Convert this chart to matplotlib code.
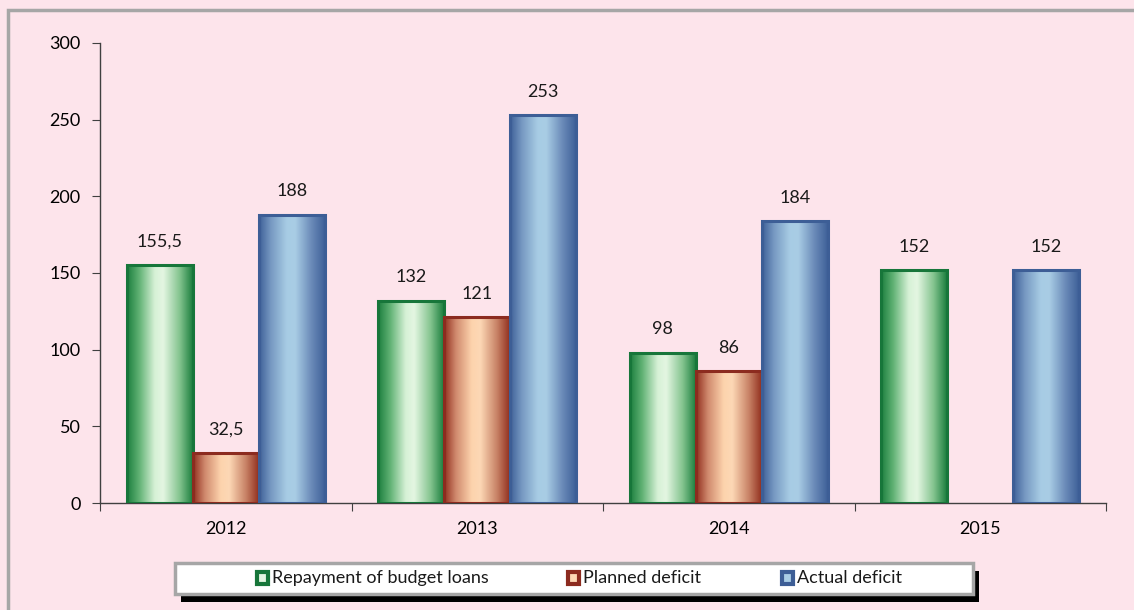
import matplotlib.pyplot as plt
import numpy as np
from matplotlib.colors import LinearSegmentedColormap
from matplotlib.patches import Rectangle

# chart data
years = ['2012', '2013', '2014', '2015']
repayment = [155.5, 132, 98, 152]
planned = [32.5, 121, 86, np.nan]
actual = [188, 253, 184, 152]
value_labels = {
    'repayment': ['155,5', '132', '98', '152'],
    'planned': ['32,5', '121', '86', ''],
    'actual': ['188', '253', '184', '152'],
}
series_names = ['Repayment of budget loans', 'Planned deficit', 'Actual deficit']

# edge colour, gradient stops (dark -> light -> dark)
styles = {
    'repayment': ('#17763a', ['#1d7f3f', '#5fb173', '#d6f1d6', '#e4f6e2', '#84c48f', '#1d7f3f']),
    'planned': ('#8c2b1f', ['#92301f', '#d08a6e', '#fdd3ad', '#fdd8b5', '#c98468', '#92301f']),
    'actual': ('#3d5e96', ['#3f6199', '#7799c2', '#a7cce4', '#a9cde5', '#6a8ab8', '#3f6199']),
}
bg = '#fde4eb'

plt.rcParams['font.family'] = ['Lato', 'DejaVu Sans']

fig = plt.figure(figsize=(11.34, 6.10), dpi=100)
fig.patch.set_facecolor(bg)
W, H = 1134, 610

# outer gray frame (cut at right / bottom like the source)
fig.patches.append(Rectangle((8 / W, -0.1), 1.2, 1 - 10 / H + 0.1, transform=fig.transFigure,
                             fill=False, edgecolor='#a6a6a6', linewidth=2.5, zorder=0))

ax = fig.add_axes([100 / W, 1 - 503 / H, (1106 - 100) / W, (503 - 43) / H])
ax.set_facecolor(bg)

bw = 0.262
x = np.arange(len(years))
series = [('repayment', repayment, -bw), ('planned', planned, 0.0), ('actual', actual, bw)]

for key, vals, off in series:
    edge, stops = styles[key]
    cmap = LinearSegmentedColormap.from_list(key, list(zip([0, 0.18, 0.42, 0.55, 0.8, 1.0], stops)))
    grad = np.linspace(0, 1, 200).reshape(1, -1)
    for i, v in enumerate(vals):
        if np.isnan(v):
            continue
        x0 = x[i] + off - bw / 2
        ax.imshow(grad, cmap=cmap, extent=[x0, x0 + bw, 0, v], aspect='auto',
                  interpolation='bicubic', zorder=2)
        ax.add_patch(Rectangle((x0, 0), bw, v, fill=False, edgecolor=edge, linewidth=2.2, zorder=3))
        ax.annotate(value_labels[key][i], (x[i] + off, v), xytext=(0, 11), textcoords='offset points',
                    ha='center', va='bottom', fontsize=13, color='#1a1a1a')

ax.set_xlim(-0.5, len(years) - 0.5)
ax.set_ylim(0, 300)
ax.set_yticks(range(0, 301, 50))
ax.set_xticks(np.arange(-0.5, len(years), 1.0))
ax.set_xticklabels([])
ax.set_xticks(x, minor=True)
ax.set_xticklabels(years, minor=True)
ax.tick_params(axis='x', which='major', direction='out', length=6, color='#404040')
ax.tick_params(axis='x', which='minor', length=0, pad=13, labelsize=13)
ax.tick_params(axis='y', direction='out', length=6, color='#404040', labelsize=13, pad=8)
for s in ['top', 'right']:
    ax.spines[s].set_visible(False)
for s in ['left', 'bottom']:
    ax.spines[s].set_color('#404040')
    ax.spines[s].set_linewidth(1)

# legend box with shadow
lx0, lx1, ly0, ly1 = 175, 973, 563, 594
fig.patches.append(Rectangle(((lx0 + 6) / W, 1 - (ly1 + 8) / H), (lx1 - lx0) / W, (ly1 - ly0) / H,
                             transform=fig.transFigure, facecolor='black', edgecolor='none', zorder=1))
fig.patches.append(Rectangle((lx0 / W, 1 - ly1 / H), (lx1 - lx0) / W, (ly1 - ly0) / H,
                             transform=fig.transFigure, facecolor='white', edgecolor='#a6a6a6',
                             linewidth=2.5, zorder=2))
legend_x = [257, 568, 782]
ly = 578
for (key, _, _), name, px in zip(series, series_names, legend_x):
    edge, stops = styles[key]
    fig.patches.append(Rectangle((px / W, 1 - (ly + 6) / H), 11 / W, 12 / H, transform=fig.transFigure,
                                 facecolor=stops[3], edgecolor=edge, linewidth=3, zorder=3))
    fig.text((px + 15) / W, 1 - ly / H, name, ha='left', va='center', fontsize=13, color='#1a1a1a', zorder=4)

fig.savefig('out.png', dpi=100, facecolor=bg)
